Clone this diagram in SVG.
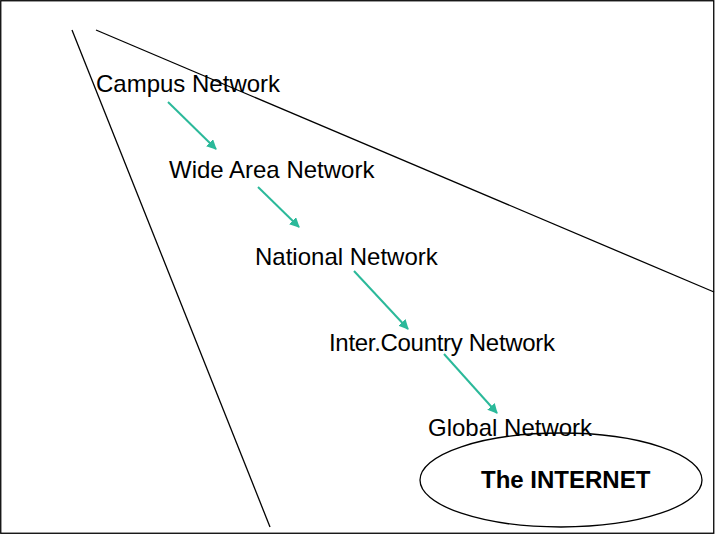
<svg xmlns="http://www.w3.org/2000/svg" width="720" height="540" viewBox="0 0 720 540">
<style>
.lbl{font-family:"Liberation Sans",Arial,sans-serif;font-size:24px;fill:#000}
.bold{font-weight:bold}
.ln{stroke:#000;stroke-width:1.3;fill:none}
.arr{stroke:#2bb99a;stroke-width:2;fill:none;marker-end:url(#ah)}
</style>
<defs>
<marker id="ah" viewBox="0 0 10 10" refX="9" refY="5" markerWidth="5" markerHeight="5" orient="auto" markerUnits="strokeWidth">
<path d="M0,0 L10,5 L0,10 z" fill="#2bb99a"/>
</marker>
</defs>
<rect x="0" y="0" width="720" height="540" fill="#fff"/>
<rect x="0.75" y="0.75" width="713" height="532.5" class="ln" stroke-width="1.5"/>
<g id="funnel">
<line x1="72" y1="30" x2="270" y2="527" class="ln"/>
<line x1="96" y1="30" x2="714" y2="292" class="ln"/>
</g>
<g id="campus"><text class="lbl" x="96" y="92">Campus Network</text></g>
<g id="wan"><text class="lbl" x="169" y="178">Wide Area Network</text></g>
<g id="national"><text class="lbl" x="255" y="265">National Network</text></g>
<g id="intercountry"><text class="lbl" x="329" y="351" textLength="226" lengthAdjust="spacing">Inter.Country Network</text></g>
<g id="internet"><ellipse cx="561" cy="480" rx="141" ry="47" class="ln"/><text class="lbl bold" x="481" y="488">The INTERNET</text></g>
<g id="global"><text class="lbl" x="428" y="436">Global Network</text></g>
<g id="connectors">
<line x1="168" y1="102" x2="216" y2="149" class="arr"/>
<line x1="258" y1="187" x2="299" y2="227" class="arr"/>
<line x1="354" y1="271" x2="408" y2="329" class="arr"/>
<line x1="444" y1="354" x2="497" y2="413" class="arr"/>
</g>
</svg>
